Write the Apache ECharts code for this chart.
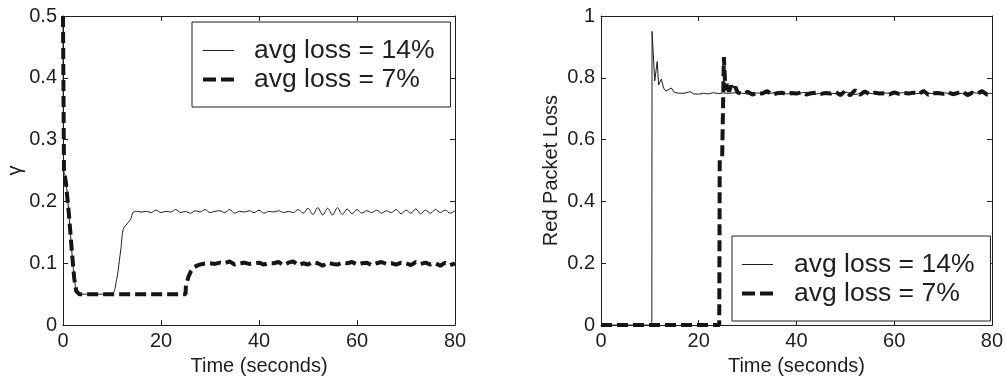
<!DOCTYPE html>
<html>
<head>
<meta charset="utf-8">
<script src="https://cdn.jsdelivr.net/npm/echarts@6/dist/echarts.min.js"></script>
<style>
html,body{margin:0;padding:0;background:#fff;}
#chart{width:1006px;height:381px;}
</style>
</head>
<body>
<div id="chart"></div>
<script>
// ---------- DATA ----------
const seriesNames = ['avg loss = 14%', 'avg loss = 7%'];
const xTicks = [0, 20, 40, 60, 80];
const gammaTicks = [0, 0.1, 0.2, 0.3, 0.4, 0.5];
const lossTicks = [0, 0.2, 0.4, 0.6, 0.8, 1];

// Left chart: gamma, avg loss = 14% (thin)
const gamma14 = [
  [0,0.5],[0.15,0.25],[0.5,0.24],[1,0.2],[1.5,0.15],[2,0.1],[2.5,0.065],[3,0.05],
  [9.9,0.05],[10.95,0.074],[11.5,0.104],[11.84,0.125],[12.3,0.155],[13.3,0.166],[13.8,0.171],[14.35,0.183],
  [15,0.184],[16,0.183],[17,0.184],[18,0.182],[19,0.186],[20,0.182],[21,0.184],[22,0.183],[23,0.187],[24,0.182],
  [25,0.184],[26,0.181],[27,0.185],[28,0.183],[29,0.187],[30,0.182],[31,0.184],[32,0.185],[33,0.182],[34,0.187],
  [35,0.181],[36,0.184],[37,0.183],[38,0.185],[39,0.182],[40,0.186],[41,0.181],[42,0.184],[43,0.183],[44,0.185],
  [45,0.182],[46,0.184],[47,0.182],[48,0.187],[49,0.181],[50,0.189],[51,0.179],[52,0.190],[53,0.178],[54,0.189],
  [55,0.178],[56,0.190],[57,0.179],[58,0.188],[59,0.180],[60,0.187],[61,0.181],[62,0.185],[63,0.182],[64,0.186],
  [65,0.181],[66,0.185],[67,0.182],[68,0.187],[69,0.180],[70,0.186],[71,0.181],[72,0.188],[73,0.180],[74,0.186],
  [75,0.181],[76,0.187],[77,0.182],[78,0.186],[79,0.181],[80,0.185]
];
// Left chart: gamma, avg loss = 7% (thick dashed)
const gamma7 = [
  [0,0.5],[0.2,0.25],[0.6,0.23],[1.2,0.18],[1.8,0.12],[2.3,0.075],[2.7,0.055],[3.3,0.05],
  [25,0.05],[25.1,0.065],[25.6,0.078],[26.1,0.087],[26.8,0.094],[27.6,0.097],[28.5,0.099],[29.5,0.1],
  [30,0.100],[31,0.099],[32,0.101],[33,0.100],[34,0.103],[35,0.098],[36,0.100],[37,0.101],[38,0.099],[39,0.100],
  [40,0.101],[41,0.098],[42,0.100],[43,0.100],[44,0.102],[45,0.097],[46,0.101],[47,0.103],[48,0.097],[49,0.100],
  [50,0.098],[51,0.102],[52,0.100],[53,0.096],[54,0.101],[55,0.099],[56,0.098],[57,0.101],[58,0.100],[59,0.102],
  [60,0.098],[61,0.100],[62,0.101],[63,0.097],[64,0.100],[65,0.102],[66,0.099],[67,0.100],[68,0.098],[69,0.101],
  [70,0.100],[71,0.097],[72,0.102],[73,0.099],[74,0.101],[75,0.098],[76,0.100],[77,0.096],[78,0.101],[79,0.097],[80,0.100]
];
// Right chart: red packet loss, avg loss = 14% (thin)
const loss14 = [
  [0,0],[10.4,0],[10.45,0.95],[11,0.79],[11.5,0.853],[11.8,0.777],[12.35,0.796],[12.8,0.767],[13.3,0.757],
  [14.4,0.767],[15,0.753],[16,0.750],[17,0.750],[18.2,0.755],[19,0.748],[19.4,0.754],[20,0.747],[21,0.750],
  [22,0.748],[23,0.752],[24,0.749],[25,0.751],
  [26,0.750],[28,0.752],[30,0.748],[32,0.751],[34,0.749],[36,0.752],[38,0.748],[40,0.750],[42,0.753],[44,0.748],
  [46,0.751],[48,0.749],[50,0.754],[52,0.746],[54,0.752],[56,0.748],[58,0.751],[60,0.749],[62,0.752],[64,0.748],
  [66,0.751],[68,0.749],[70,0.752],[72,0.748],[74,0.750],[76,0.752],[78,0.749],[80,0.750]
];
// Right chart: red packet loss, avg loss = 7% (thick dashed)
const loss7 = [
  [0,0],[24.2,0],[24.3,0.535],[24.8,0.545],[25.0,0.55],[25.15,0.867],[25.35,0.8],[25.5,0.76],[25.8,0.78],
  [26.2,0.755],[26.6,0.775],[27,0.76],[27.5,0.77],
  [28,0.752],[29,0.748],[30,0.755],[31,0.746],[32,0.751],[33,0.749],[34,0.757],[35,0.745],[36,0.750],[37,0.752],
  [38,0.747],[39,0.751],[40,0.749],[41,0.753],[42,0.746],[43,0.750],[44,0.752],[45,0.748],[46,0.751],[47,0.749],
  [48,0.755],[49,0.744],[50,0.758],[51,0.743],[52,0.760],[53,0.745],[54,0.756],[55,0.747],[56,0.752],[57,0.749],
  [58,0.750],[59,0.746],[60,0.753],[61,0.748],[62,0.751],[63,0.749],[64,0.752],[65,0.747],[66,0.758],[67,0.745],
  [68,0.750],[69,0.751],[70,0.748],[71,0.753],[72,0.747],[73,0.751],[74,0.756],[75,0.744],[76,0.752],[77,0.749],
  [78,0.757],[79,0.746],[80,0.750]
];

// ---------- CHART ----------
const FONT = 'Liberation Sans, Arial, Helvetica, sans-serif';
const INK = '#1e1e1e';
const chart = echarts.init(document.getElementById('chart'), null, {renderer: 'canvas'});

function xAx(gridIndex, top) {
  return {
    type: 'value', gridIndex: gridIndex, min: xTicks[0], max: xTicks[xTicks.length-1], interval: 20,
    position: top ? 'top' : 'bottom',
    name: top ? '' : 'Time (seconds)', nameLocation: 'middle', nameGap: 30,
    nameTextStyle: {fontFamily: FONT, fontSize: 20, color: INK},
    axisLine: {show: true, onZero: false, lineStyle: {color: INK, width: 1}},
    axisTick: {show: true, inside: true, length: 5, lineStyle: {color: INK}},
    axisLabel: {show: !top, margin: 6, fontFamily: FONT, fontSize: 20, color: INK},
    splitLine: {show: false}
  };
}
function yAx(gridIndex, right, ticks, name, gap) {
  return {
    type: 'value', gridIndex: gridIndex, min: ticks[0], max: ticks[ticks.length-1], interval: ticks[1]-ticks[0],
    position: right ? 'right' : 'left',
    name: right ? '' : name, nameLocation: 'middle', nameGap: gap,
    nameTextStyle: {fontFamily: FONT, fontSize: 20, color: INK},
    axisLine: {show: true, onZero: false, lineStyle: {color: INK, width: 1}},
    axisTick: {show: true, inside: true, length: 5, lineStyle: {color: INK}},
    axisLabel: {show: !right, margin: 6, fontFamily: FONT, fontSize: 20, color: INK},
    splitLine: {show: false}
  };
}
const thin = {color: INK, width: 1, type: 'solid'};
const thick = {color: '#151515', width: 4, type: [11, 5], cap: 'butt'};

function legend(left, top, padLeft, textPad) {
  return {
    data: [
      {name: seriesNames[0], lineStyle: {width: 1, color: INK, type: 'solid'}},
      {name: seriesNames[1], lineStyle: {width: 4, color: '#151515', type: [13, 5], cap: 'butt'}}
    ],
    orient: 'vertical', left: left, top: top,
    padding: [15, 16, 14, padLeft],
    itemGap: 2, itemWidth: 31, itemHeight: 14,
    borderColor: INK, borderWidth: 1, backgroundColor: '#fff',
    selectedMode: false,
    itemStyle: {opacity: 0},
    textStyle: {fontFamily: FONT, fontSize: 26.5, lineHeight: 26, color: INK, padding: [0, 0, 0, textPad]}
  };
}

chart.setOption({
  animation: false,
  backgroundColor: '#fff',
  color: [INK, '#151515'],
  grid: [
    {left: 63, right: 551, top: 16, bottom: 55},
    {left: 601, right: 12, top: 16, bottom: 55}
  ],
  xAxis: [xAx(0, false), xAx(0, true), xAx(1, false), xAx(1, true)],
  yAxis: [
    yAx(0, false, gammaTicks, 'γ', 38), yAx(0, true, gammaTicks, '', 0),
    yAx(1, false, lossTicks, 'Red Packet Loss', 40), yAx(1, true, lossTicks, '', 0)
  ],
  legend: [legend(192, 22, 9, 15), legend(732, 236, 8, 16)],
  series: [
    {name: seriesNames[0], type: 'line', xAxisIndex: 0, yAxisIndex: 0, data: gamma14, showSymbol: false, symbol: 'none', smooth: 0.3, itemStyle: {color: INK}, lineStyle: thin, z: 2},
    {name: seriesNames[1], type: 'line', xAxisIndex: 0, yAxisIndex: 0, data: gamma7, showSymbol: false, symbol: 'none', itemStyle: {color: '#151515'}, lineStyle: thick, z: 3},
    {name: seriesNames[0], type: 'line', xAxisIndex: 2, yAxisIndex: 2, data: loss14, showSymbol: false, symbol: 'none', itemStyle: {color: INK}, lineStyle: thin, z: 2},
    {name: seriesNames[1], type: 'line', xAxisIndex: 2, yAxisIndex: 2, data: loss7, showSymbol: false, symbol: 'none', itemStyle: {color: '#151515'}, lineStyle: thick, z: 3}
  ]
});
</script>
</body>
</html>
